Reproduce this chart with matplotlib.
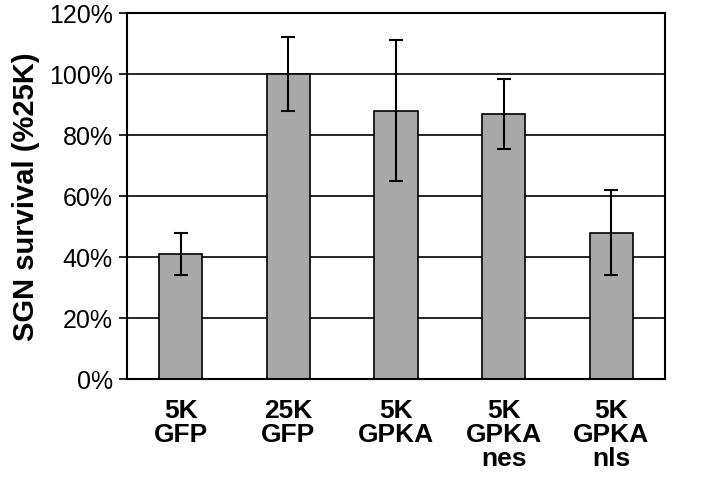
import numpy as np
import matplotlib
matplotlib.use("Agg")
import matplotlib.pyplot as plt

# data
groups = ["5K\nGFP", "25K\nGFP", "5K\nGPKA", "5K\nGPKA\nnes", "5K\nGPKA\nnls"]
survival = [41, 100, 88, 87, 48]
err = [7, 12, 23, 11.5, 14]
yticks = [0, 20, 40, 60, 80, 100, 120]

plt.rcParams['font.family'] = ['Liberation Sans', 'DejaVu Sans']

fig = plt.figure(figsize=(7.2, 4.81), dpi=100)
ax = fig.add_axes([0.176, 0.21, 0.748, 0.761])

x = np.arange(len(groups))
ax.bar(x, survival, width=0.4, color='#a9a9a9', edgecolor='black', linewidth=1.2, zorder=2)
ax.errorbar(x, survival, yerr=err, fmt='none', ecolor='black', elinewidth=1.5,
            capsize=5, capthick=1.5, zorder=3)

ax.set_xlim(-0.5, len(groups) - 0.5)
ax.set_ylim(0, 120)
ax.set_yticks(yticks)
ax.set_yticklabels([f"{v}%" for v in yticks], fontsize=18)
ax.yaxis.grid(True, color='black', linewidth=1.2)
ax.set_axisbelow(True)

ax.set_xticks(x)
ax.set_xticklabels(groups, fontsize=19, fontweight='bold', linespacing=1.0)
ax.tick_params(axis='x', length=0, pad=14)
ax.tick_params(axis='y', length=6, width=1.2, pad=4)

for s in ax.spines.values():
    s.set_linewidth(1.5)

ax.set_ylabel("SGN survival (%25K)", fontsize=21, fontweight='bold', labelpad=6)

fig.savefig("out.png", dpi=100)
